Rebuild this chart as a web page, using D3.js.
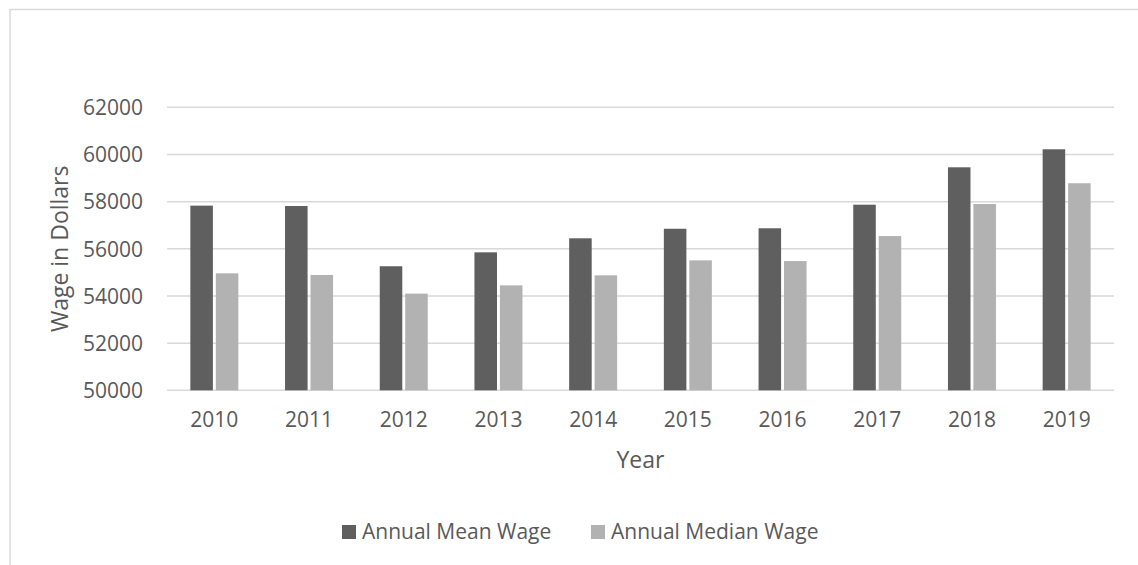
<!DOCTYPE html>
<html>
<head>
<meta charset="utf-8">
<script src="https://cdn.jsdelivr.net/npm/d3@7"></script>
<style>
  html, body { margin: 0; padding: 0; background: #fff; }
  svg { display: block; font-family: "Open Sans", "Noto Sans", sans-serif; }
</style>
</head>
<body>
<svg id="chart" width="1138" height="565"></svg>
<script>
// Annual wages by year
const years = ["2010", "2011", "2012", "2013", "2014", "2015", "2016", "2017", "2018", "2019"];
const meanWage = [57830, 57815, 55260, 55850, 56445, 56850, 56870, 57870, 59456, 60220];
const medianWage = [54960, 54890, 54100, 54450, 54875, 55510, 55480, 56540, 57900, 58780];
const seriesNames = ["Annual Mean Wage", "Annual Median Wage"];
const seriesColors = ["#5f5f5f", "#b2b2b2"];
const yTicks = [50000, 52000, 54000, 56000, 58000, 60000, 62000];

const svg = d3.select("#chart");
const textColor = "#595959";
const fontSize = 21;
const titleSize = 23;

const plot = { left: 167, right: 1114, top: 107.3, bottom: 390.3 };

// Chart frame (top and left edges)
svg.append("line").attr("x1", 9.5).attr("x2", 1138).attr("y1", 9.5).attr("y2", 9.5)
  .attr("stroke", "#d9d9d9").attr("stroke-width", 1.5);
svg.append("line").attr("x1", 10).attr("x2", 10).attr("y1", 9.5).attr("y2", 565)
  .attr("stroke", "#d9d9d9").attr("stroke-width", 1.5);

const x = d3.scaleBand().domain(years).range([plot.left, plot.right]).padding(0);
const y = d3.scaleLinear().domain([50000, 62000]).range([plot.bottom, plot.top]);

// Horizontal gridlines
svg.append("g").selectAll("line").data(yTicks).join("line")
  .attr("x1", plot.left).attr("x2", plot.right)
  .attr("y1", d => y(d)).attr("y2", d => y(d))
  .attr("stroke", "#d9d9d9").attr("stroke-width", 1.5);

// Y axis labels
const yAxis = d3.axisLeft(y).tickValues(yTicks).tickSize(0).tickPadding(0)
  .tickFormat(d3.format("d"));
const gy = svg.append("g").attr("transform", `translate(${plot.left - 24},0)`).call(yAxis);
gy.select(".domain").remove();
gy.selectAll("text").attr("fill", textColor).attr("font-size", fontSize)
  .attr("font-family", "'Open Sans', sans-serif").attr("dy", "0.35em");

// X axis labels
const xAxis = d3.axisBottom(x).tickSize(0).tickPadding(0);
const gx = svg.append("g").attr("transform", `translate(0,${plot.bottom + 22})`).call(xAxis);
gx.select(".domain").remove();
gx.selectAll("text").attr("fill", textColor).attr("font-size", fontSize)
  .attr("font-family", "'Open Sans', sans-serif").attr("dy", "0.71em");

// Bars: two series grouped inside each year band
const inner = d3.scaleBand().domain([0, 1]).range([0, 48]).paddingInner(0.115);
const groupOffset = (x.bandwidth() - 48) / 2;
const series = [meanWage, medianWage];

series.forEach((vals, si) => {
  svg.append("g").selectAll("rect").data(vals).join("rect")
    .attr("x", (d, i) => x(years[i]) + groupOffset + inner(si))
    .attr("width", inner.bandwidth())
    .attr("y", d => y(d))
    .attr("height", d => y(50000) - y(d))
    .attr("fill", seriesColors[si]);
});

// Axis titles
svg.append("text").attr("x", (plot.left + plot.right) / 2).attr("y", 468)
  .attr("text-anchor", "middle").attr("fill", textColor).attr("font-size", titleSize)
  .text("Year");
svg.append("text")
  .attr("transform", `translate(68,${(plot.top + plot.bottom) / 2}) rotate(-90)`)
  .attr("text-anchor", "middle").attr("fill", textColor).attr("font-size", titleSize)
  .text("Wage in Dollars");

// Legend
const legendItems = [
  { name: seriesNames[0], color: seriesColors[0], x: 342 },
  { name: seriesNames[1], color: seriesColors[1], x: 591 }
];
const lg = svg.append("g").selectAll("g").data(legendItems).join("g")
  .attr("transform", d => `translate(${d.x},525)`);
lg.append("rect").attr("width", 14).attr("height", 14).attr("fill", d => d.color);
lg.append("text").attr("x", 20).attr("y", 7).attr("dy", "0.35em")
  .attr("fill", textColor).attr("font-size", fontSize).text(d => d.name);
</script>
</body>
</html>
